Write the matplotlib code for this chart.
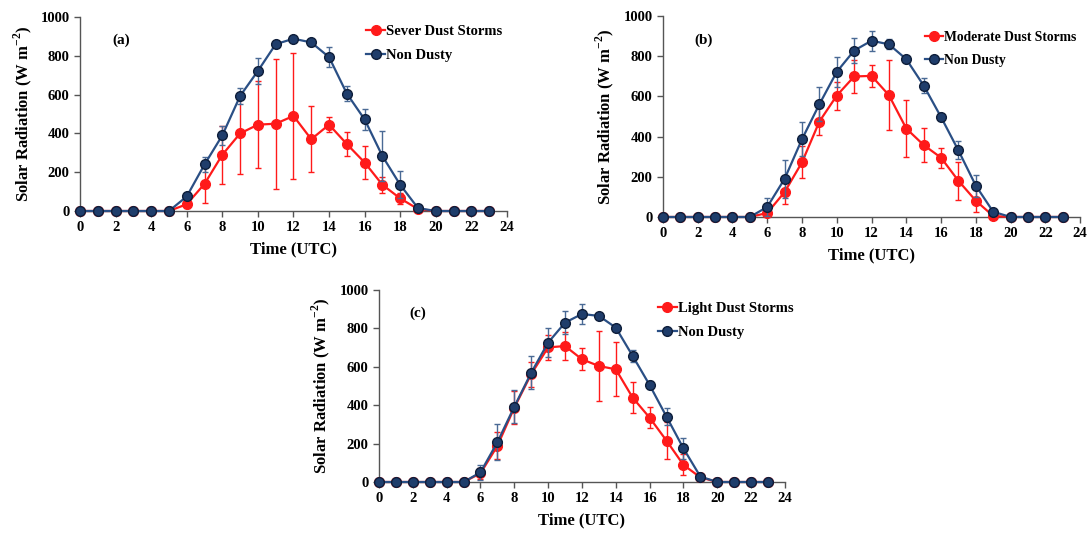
import matplotlib
matplotlib.use("Agg")
import matplotlib.pyplot as plt
from matplotlib.lines import Line2D

hours = list(range(24))

# Panel (a)
severe = [0, 0, 0, 0, 0, 0, 35, 140, 290, 400, 445, 450, 490, 370, 445, 345, 250, 135, 65, 10, 0, 0, 0, 0]
severe_err = [0, 0, 0, 0, 0, 0, 20, 100, 150, 210, 225, 335, 325, 170, 40, 60, 85, 40, 30, 0, 0, 0, 0, 0]
non_a = [0, 0, 0, 0, 0, 0, 75, 240, 390, 593, 722, 860, 888, 869, 793, 605, 472, 283, 135, 15, 0, 0, 0, 0]
non_a_err = [0, 0, 0, 0, 0, 0, 15, 40, 50, 40, 65, 15, 10, 20, 50, 40, 55, 130, 70, 0, 0, 0, 0, 0]

# Panel (b)
moderate = [0, 0, 0, 0, 0, 0, 20, 124, 272, 475, 604, 699, 702, 606, 440, 358, 295, 180, 81, 5, 0, 0, 0, 0]
moderate_err = [0, 0, 0, 0, 0, 0, 10, 60, 80, 65, 70, 80, 55, 175, 140, 83, 50, 95, 55, 0, 0, 0, 0, 0]
non_b = [0, 0, 0, 0, 0, 0, 50, 190, 387, 561, 722, 828, 877, 859, 785, 654, 497, 331, 156, 26, 0, 0, 0, 0]
non_b_err = [0, 0, 0, 0, 0, 0, 45, 95, 85, 85, 73, 60, 50, 25, 10, 35, 15, 45, 55, 0, 0, 0, 0, 0]

# Panel (c)
light = [0, 0, 0, 0, 0, 0, 45, 188, 387, 562, 701, 708, 639, 604, 587, 439, 335, 215, 89, 24, 0, 0, 0, 0]
light_err = [0, 0, 0, 0, 0, 0, 30, 70, 85, 65, 65, 75, 58, 180, 140, 80, 55, 95, 55, 0, 0, 0, 0, 0]
non_c = [0, 0, 0, 0, 0, 0, 50, 207, 392, 569, 726, 830, 875, 865, 804, 656, 505, 340, 175, 28, 0, 0, 0, 0]
non_c_err = [0, 0, 0, 0, 0, 0, 40, 95, 85, 85, 74, 60, 50, 15, 10, 30, 20, 45, 55, 0, 0, 0, 0, 0]

xticks = list(range(0, 25, 2))
yticks = [0, 200, 400, 600, 800, 1000]

plt.rcParams['font.family'] = ['Liberation Serif', 'DejaVu Serif']
plt.rcParams['mathtext.fontset'] = 'custom'
plt.rcParams['mathtext.rm'] = 'Liberation Serif:bold'
plt.rcParams['mathtext.bf'] = 'Liberation Serif:bold'

RED = '#FF1A1A'
BLUE_LINE = '#2A4F85'
BLUE_FACE = '#1F3D6B'
BLUE_EDGE = '#0E1E3A'
BLUE_ERR = '#4A6A95'

fig = plt.figure(figsize=(10.89, 5.38), dpi=100)

panels = [
    ([0.0735, 0.6078, 0.392, 0.3606], severe, severe_err, non_a, non_a_err, 'Sever Dust Storms', '(a)', (0.64, 1.025), 10.5),
    ([0.6088, 0.5967, 0.383, 0.3736], moderate, moderate_err, non_b, non_b_err, 'Moderate Dust Storms', '(b)', (0.6, 0.985), 9.8),
    ([0.3480, 0.1041, 0.3728, 0.3569], light, light_err, non_c, non_c_err, 'Light Dust Storms', '(c)', (0.655, 1.005), 10.5),
]

for rect, dval, derr, nval, nerr, dlabel, tag, lpos, lsize in panels:
    ax = fig.add_axes(rect)
    ax.errorbar(hours, dval, yerr=derr, color=RED, lw=1.6, marker='o', ms=7,
                mfc=RED, mec=RED, ecolor=RED, elinewidth=1.0, capsize=2.5,
                capthick=1.0, clip_on=False, zorder=3)
    ax.errorbar(hours, nval, yerr=nerr, color=BLUE_LINE, lw=1.6, marker='o', ms=7,
                mfc=BLUE_FACE, mec=BLUE_EDGE, mew=1.0, ecolor=BLUE_ERR, elinewidth=1.0,
                capsize=2.5, capthick=1.0, clip_on=False, zorder=4)
    ax.set_xlim(0, 24)
    ax.set_ylim(0, 1000)
    ax.set_xticks(xticks)
    ax.set_yticks(yticks)
    for s in ['top', 'right']:
        ax.spines[s].set_visible(False)
    for s in ['left', 'bottom']:
        ax.spines[s].set_color('#555555')
        ax.spines[s].set_linewidth(1.0)
    ax.tick_params(axis='both', direction='out', length=4, width=1.0, color='#555555',
                   labelsize=10.5, pad=3.5)
    for lab in ax.get_xticklabels() + ax.get_yticklabels():
        lab.set_fontweight('bold')
    ax.set_xlabel('Time (UTC)', fontsize=12, fontweight='bold', labelpad=5)
    ax.set_ylabel(r'Solar Radiation (W m$^{-2}$)', fontsize=12, fontweight='bold', labelpad=5)
    ax.text(1.8, 880, tag, fontsize=11, fontweight='bold', va='center', ha='left')
    handles = [
        Line2D([], [], color=RED, lw=1.6, marker='o', ms=7, mfc=RED, mec=RED),
        Line2D([], [], color=BLUE_LINE, lw=1.6, marker='o', ms=7, mfc=BLUE_FACE, mec=BLUE_EDGE),
    ]
    ax.legend(handles, [dlabel, 'Non Dusty'], loc='upper left', bbox_to_anchor=lpos,
              frameon=False, handlelength=1.3, handletextpad=0.05, labelspacing=0.7,
              prop={'family': 'Liberation Serif', 'weight': 'bold', 'size': lsize})

fig.savefig('out.png', dpi=100)
